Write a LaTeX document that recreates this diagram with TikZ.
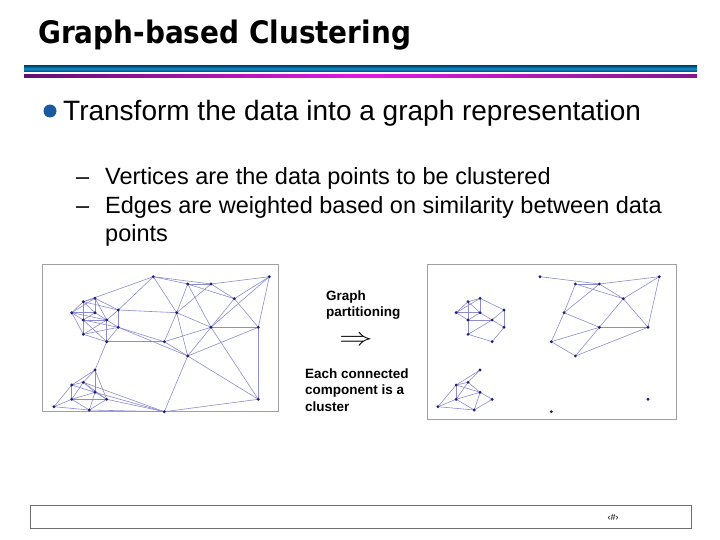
\documentclass[tikz,border=0pt]{standalone}
\usepackage{fontspec}
\setmainfont{Liberation Sans}
\newfontfamily\titlefont[FakeStretch=0.9]{DejaVu Sans}
\definecolor{bluedark}{RGB}{0,80,125}
\definecolor{bluemid}{RGB}{20,140,200}
\definecolor{purpdark}{RGB}{100,15,110}
\definecolor{purpmid}{RGB}{225,25,225}
\definecolor{purpend}{RGB}{130,25,140}
\definecolor{bulletblue}{RGB}{25,90,160}
\definecolor{edgecol}{RGB}{140,140,210}
\definecolor{dotcol}{RGB}{30,30,120}
\definecolor{framegray}{RGB}{160,160,160}
\definecolor{footgray}{RGB}{110,110,110}
\tikzset{
  gedge/.style={draw=edgecol, line width=0.6pt},
  gdot/.style={circle, fill=dotcol, inner sep=0pt, minimum size=3.2pt},
  txt/.style={anchor=base west, inner sep=0pt},
  frame/.style={draw=framegray, line width=1.1pt, anchor=north west, inner sep=0pt},
}
\newcommand\gverts[1]{%
  \coordinate (#1-A) at (153.3,276.7);
  \coordinate (#1-B) at (187.7,284);
  \coordinate (#1-C) at (211,284);
  \coordinate (#1-D) at (269.3,276.7);
  \coordinate (#1-E) at (234.3,298.7);
  \coordinate (#1-F) at (176.7,312.7);
  \coordinate (#1-G) at (211,327.3);
  \coordinate (#1-H) at (258.3,327.3);
  \coordinate (#1-I) at (164.3,341.7);
  \coordinate (#1-J) at (187.7,356);
  \coordinate (#1-K) at (258.3,399.3);
  \coordinate (#1-L) at (164.3,411.7);
  \coordinate (#1-a1) at (83.3,301.7);
  \coordinate (#1-a2) at (95,298.3);
  \coordinate (#1-a3) at (71.7,312.7);
  \coordinate (#1-a4) at (95,312.7);
  \coordinate (#1-a5) at (118.3,310);
  \coordinate (#1-a6) at (83.3,320);
  \coordinate (#1-a7) at (106.7,320);
  \coordinate (#1-a8) at (118.3,327.3);
  \coordinate (#1-a9) at (83.3,334.3);
  \coordinate (#1-a10) at (106.7,341.7);
  \coordinate (#1-b1) at (95,370);
  \coordinate (#1-b2) at (71.7,385);
  \coordinate (#1-b3) at (83.3,382.3);
  \coordinate (#1-b4) at (95,392.3);
  \coordinate (#1-b5) at (71.7,399.3);
  \coordinate (#1-b7) at (106.7,399.3);
  \coordinate (#1-b8) at (54,406.7);
  \coordinate (#1-b9) at (89.3,410);
}
\newcommand\commonedges[1]{%
  \foreach \u/\v in {a1/a2,a1/a3,a1/a4,a1/a6,a2/a3,a2/a4,a2/a5,a3/a4,a3/a6,a4/a6,a4/a7,a5/a7,a5/a8,a6/a7,a6/a9,a7/a8,a7/a9,a8/a10,a9/a10,
    b1/b2,b1/b3,b2/b3,b2/b4,b2/b5,b2/b8,b3/b4,b3/b5,b4/b5,b4/b7,b4/b9,b5/b8,b5/b9,b7/b9,b8/b9,
    A/C,B/C,B/E,B/F,C/F,C/D,C/E,D/E,D/H,E/G,E/H,F/G,F/I,G/H,G/I,G/J,I/J,J/H}
    {\draw[gedge] (#1-\u) -- (#1-\v);}%
}
\newcommand\gdots[1]{%
  \foreach \n in {A,B,C,D,E,F,G,H,I,J,K,L,a1,a2,a3,a4,a5,a6,a7,a8,a9,a10,b1,b2,b3,b4,b5,b7,b8,b9}
    {\node[gdot] (#1-\n-dot) at (#1-\n) {};}%
}
\begin{document}
\begin{tikzpicture}[x=1pt,y=-1pt]
\useasboundingbox (0,0) rectangle (720,540);
% title
\node[txt, font=\titlefont\bfseries\fontsize{31}{36}\selectfont] (title) at (38,44) {Graph-based Clustering};
% header rules
\shade[top color=bluedark, bottom color=bluedark, middle color=bluemid] (24,66) rectangle (697,71.5);
\shade[left color=purpdark, right color=purpend, middle color=purpmid] (24,75) rectangle (697,78);
% bullets
\node[circle, fill=bulletblue, inner sep=0pt, minimum size=13pt] (bul) at (50,111) {};
\node[txt, font=\fontsize{28}{34}\selectfont] (t1) at (63,121) {Transform the data into a graph representation};
\node[txt, font=\fontsize{23.5}{28}\selectfont] (d1) at (76,185) {–};
\node[txt, font=\fontsize{23.5}{28}\selectfont] (s1) at (105,185) {Vertices are the data points to be clustered};
\node[txt, font=\fontsize{23.5}{28}\selectfont] (d2) at (76,214) {–};
\node[txt, font=\fontsize{23.5}{28}\selectfont] (s2) at (105,214) {Edges are weighted based on similarity between data};
\node[txt, font=\fontsize{23.5}{28}\selectfont] (s3) at (105,241) {points};
% frames
\node[frame, minimum width=236pt, minimum height=147pt] (lframe) at (42,264) {};
\node[frame, minimum width=249pt, minimum height=155pt] (rframe) at (427,264) {};
% left graph
\gverts{l}
\commonedges{l}
\foreach \u/\v in {a1/a5,a2/a7,a3/a7,a3/a9,a6/a8,a7/a10,a8/a9,a6/a10,
  a1/A,a5/A,a5/F,a8/I,a8/J,a10/I,a10/b1,
  A/B,A/F,B/G,D/G,F/J,G/K,H/K,J/K,J/L,K/L,
  b1/b4,b1/b7,b3/b7,b5/b7,b3/L,b4/L,b7/L,b9/L}
  {\draw[gedge] (l-\u) -- (l-\v);}
\gdots{l}
% right graph
\begin{scope}[shift={(382.4,0)}, xscale=1.028]
\gverts{r}
\commonedges{r}
\gdots{r}
\end{scope}
% middle labels
\node[txt, font=\bfseries\fontsize{13.5}{16}\selectfont] (gp1) at (326,300) {Graph};
\node[txt, font=\bfseries\fontsize{13.5}{16}\selectfont] (gp2) at (326,316) {partitioning};
\node[font=\fontsize{24.88}{26}\selectfont, inner sep=0pt, xscale=1.35] (arr) at (356,341) {$\Rightarrow$};
\node[txt, font=\bfseries\fontsize{13.5}{16}\selectfont] (ec1) at (305,378) {Each connected};
\node[txt, font=\bfseries\fontsize{13.5}{16}\selectfont] (ec2) at (305,394.5) {component is a};
\node[txt, font=\bfseries\fontsize{13.5}{16}\selectfont] (ec3) at (305,411) {cluster};
% footer
\node[draw=footgray, line width=1.3pt, anchor=north west, inner sep=0pt, minimum width=661pt, minimum height=23pt] (foot) at (30,505) {};
\node[font=\fontsize{9}{10}\selectfont, inner sep=0pt] (pg) at (613,517) {‹\#›};
\end{tikzpicture}
\end{document}
